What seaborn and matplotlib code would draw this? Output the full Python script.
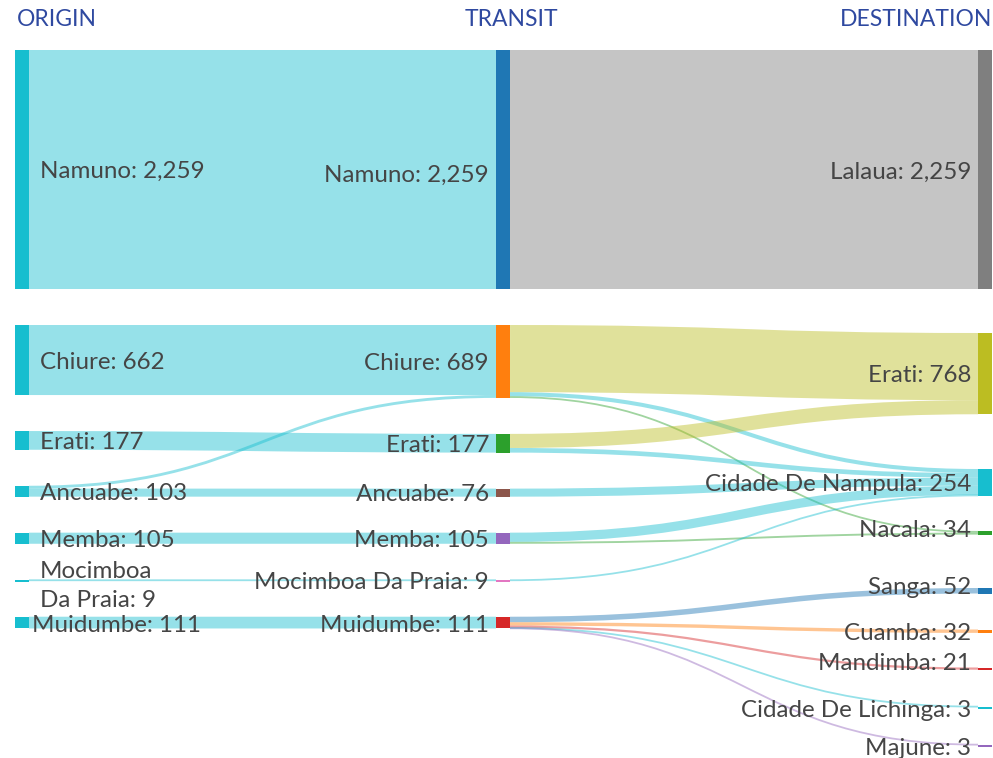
import matplotlib
matplotlib.use("Agg")
import matplotlib.pyplot as plt
from matplotlib.path import Path
from matplotlib.patches import PathPatch, Rectangle
import seaborn as sns

# ---------------- data ----------------
origin_nodes = ["Namuno", "Chiure", "Erati", "Ancuabe", "Memba", "Mocimboa Da Praia", "Muidumbe"]
transit_nodes = ["Namuno", "Chiure", "Erati", "Ancuabe", "Memba", "Mocimboa Da Praia", "Muidumbe"]
dest_nodes = ["Lalaua", "Erati", "Cidade De Nampula", "Nacala", "Sanga", "Cuamba",
              "Mandimba", "Cidade De Lichinga", "Majune"]

# origin -> transit flows
flow1_src = ["Namuno", "Chiure", "Erati", "Ancuabe", "Ancuabe", "Memba", "Mocimboa Da Praia", "Muidumbe"]
flow1_tgt = ["Namuno", "Chiure", "Erati", "Chiure", "Ancuabe", "Memba", "Mocimboa Da Praia", "Muidumbe"]
flow1_val = [2259, 662, 177, 27, 76, 105, 9, 111]

# transit -> destination flows
flow2_src = ["Namuno", "Chiure", "Chiure", "Chiure", "Erati", "Erati", "Ancuabe", "Memba", "Memba",
             "Mocimboa Da Praia", "Muidumbe", "Muidumbe", "Muidumbe", "Muidumbe", "Muidumbe"]
flow2_tgt = ["Lalaua", "Erati", "Cidade De Nampula", "Nacala", "Erati", "Cidade De Nampula",
             "Cidade De Nampula", "Cidade De Nampula", "Nacala", "Cidade De Nampula",
             "Sanga", "Cuamba", "Mandimba", "Cidade De Lichinga", "Majune"]
flow2_val = [2259, 635, 38, 16, 133, 44, 76, 87, 18, 9, 52, 32, 21, 3, 3]

column_titles = ["ORIGIN", "TRANSIT", "DESTINATION"]

# ---------------- style / layout ----------------
tab = sns.color_palette("tab10").as_hex()
origin_colors = [tab[9]] * 7
transit_colors = [tab[0], tab[1], tab[2], tab[5], tab[4], tab[6], tab[3]]
dest_colors = [tab[7], tab[8], tab[9], tab[2], tab[0], tab[1], tab[3], tab[9], tab[4]]

W, H = 993, 758
COL_X = [15, 496, 978]
NODE_W = 14
TOP = 50
GAP = 36
SCALE = 239.0 / 2259.0
DEST_TOP = [50, 333, 469, 531, 588, 629.5, 667.5, 706.5, 744.5]
LINK_ALPHA = 0.45
TEXT_COLOR = "#454545"
TITLE_COLOR = "#2f49a0"
FS = 17.4
TITLE_FS = 16.5
BASE_DY = 2

sns.set_theme(style="white")
plt.rcParams["font.family"] = ["Lato", "DejaVu Sans"]

fig = plt.figure(figsize=(W / 100, H / 100), dpi=100)
ax = fig.add_axes([0, 0, 1, 1])
ax.set_xlim(0, W)
ax.set_ylim(H, 0)
ax.axis("off")


def node_values(names, ins, outs):
    vals = []
    for n in names:
        vi = sum(v for t, v in ins if t == n)
        vo = sum(v for s, v in outs if s == n)
        vals.append(max(vi, vo))
    return vals


o_vals = node_values(origin_nodes, [], list(zip(flow1_src, flow1_val)))
t_vals = node_values(transit_nodes, list(zip(flow1_tgt, flow1_val)), list(zip(flow2_src, flow2_val)))
d_vals = node_values(dest_nodes, list(zip(flow2_tgt, flow2_val)), [])


def stacked_tops(vals):
    tops, y = [], TOP
    for v in vals:
        tops.append(y)
        y += v * SCALE + GAP
    return tops


o_top = stacked_tops(o_vals)
t_top = stacked_tops(t_vals)
d_top = DEST_TOP

columns = [
    (origin_nodes, o_vals, o_top, origin_colors),
    (transit_nodes, t_vals, t_top, transit_colors),
    (dest_nodes, d_vals, d_top, dest_colors),
]


def draw_links(ci, src, tgt, val):
    s_names, _, s_top, s_cols = columns[ci]
    t_names, _, t_top_, t_cols = columns[ci + 1]
    idx = list(range(len(val)))
    s_off = {}
    s_cursor = {n: s_top[i] for i, n in enumerate(s_names)}
    for k in sorted(idx, key=lambda k: t_top_[t_names.index(tgt[k])]):
        s_off[k] = s_cursor[src[k]]
        s_cursor[src[k]] += val[k] * SCALE
    t_off = {}
    t_cursor = {n: t_top_[i] for i, n in enumerate(t_names)}
    for k in sorted(idx, key=lambda k: s_top[s_names.index(src[k])]):
        t_off[k] = t_cursor[tgt[k]]
        t_cursor[tgt[k]] += val[k] * SCALE
    x0 = COL_X[ci] + NODE_W
    x1 = COL_X[ci + 1]
    xm = (x0 + x1) / 2
    for k in idx:
        w = val[k] * SCALE
        y0 = s_off[k] + w / 2
        y1 = t_off[k] + w / 2
        if ci == 0:
            col = s_cols[s_names.index(src[k])]
        else:
            col = t_cols[t_names.index(tgt[k])]
        path = Path([(x0, y0), (xm, y0), (xm, y1), (x1, y1)],
                    [Path.MOVETO, Path.CURVE4, Path.CURVE4, Path.CURVE4])
        lw = max(w, 1.8) * 72 / 100
        ax.add_patch(PathPatch(path, fill=False, edgecolor=col, alpha=LINK_ALPHA,
                               lw=lw, capstyle="butt", zorder=1))


draw_links(0, flow1_src, flow1_tgt, flow1_val)
draw_links(1, flow2_src, flow2_tgt, flow2_val)

for ci, (names, vals, tops, cols) in enumerate(columns):
    for i, n in enumerate(names):
        h = max(vals[i] * SCALE, 2.2)
        ax.add_patch(Rectangle((COL_X[ci], tops[i]), NODE_W, h, facecolor=cols[i],
                               edgecolor="none", zorder=2))

# labels
label_dy = {
    (0, "Mocimboa Da Praia"): 4,
    (1, "Namuno"): 4,
    (1, "Muidumbe"): 1,
    (0, "Muidumbe"): 1,
    (2, "Lalaua"): 1,
    (2, "Nacala"): -4,
    (2, "Sanga"): -5,
    (2, "Mandimba"): -7,
    (2, "Cidade De Lichinga"): 2,
    (2, "Majune"): 2,
}
for ci, (names, vals, tops, cols) in enumerate(columns):
    for i, n in enumerate(names):
        cy = tops[i] + vals[i] * SCALE / 2 + BASE_DY + label_dy.get((ci, n), 0)
        txt = f"{n}: {vals[i]:,}"
        if ci == 0:
            x = COL_X[0] + NODE_W + 11
            if n == "Mocimboa Da Praia":
                txt = f"Mocimboa\nDa Praia: {vals[i]:,}"
            if n == "Muidumbe":
                x = COL_X[0] + NODE_W + 3
            ax.text(x, cy, txt, ha="left", va="center", fontsize=FS, color=TEXT_COLOR,
                    zorder=3, linespacing=1.45)
        else:
            x = COL_X[ci] - 7
            ax.text(x, cy, txt, ha="right", va="center", fontsize=FS, color=TEXT_COLOR, zorder=3)

# column titles
ax.text(17, 20, column_titles[0], ha="left", va="center", fontsize=TITLE_FS, color=TITLE_COLOR)
ax.text(511, 20, column_titles[1], ha="center", va="center", fontsize=TITLE_FS, color=TITLE_COLOR)
ax.text(992, 20, column_titles[2], ha="right", va="center", fontsize=TITLE_FS, color=TITLE_COLOR)

fig.savefig("out.png", dpi=100)
